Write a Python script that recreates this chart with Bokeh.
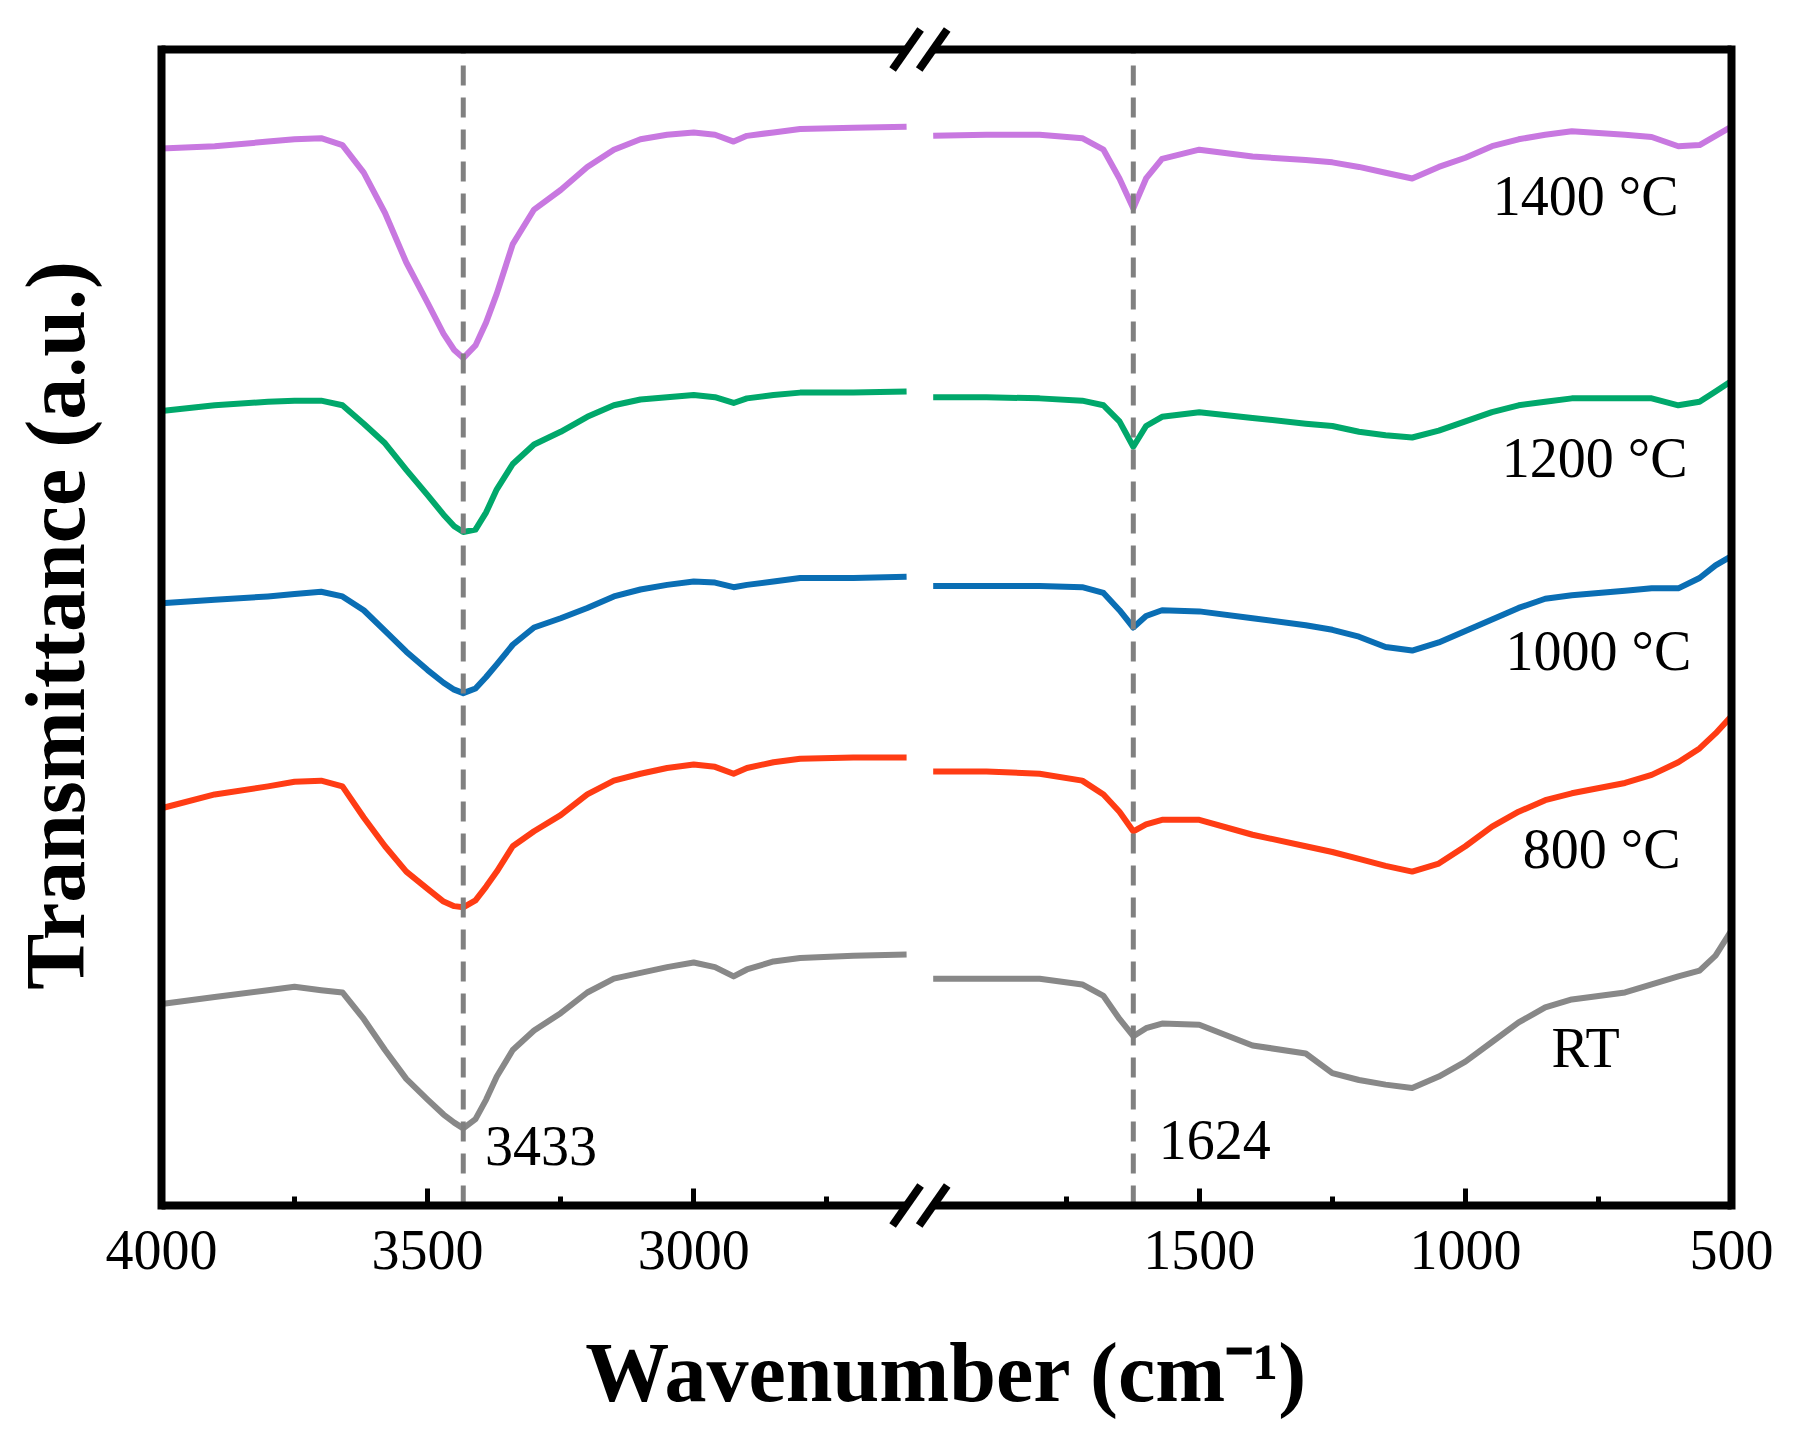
import numpy as np
from bokeh.plotting import figure
from bokeh.models import Range1d, FixedTicker, Arrow, BoxAnnotation
from bokeh.core.properties import value
from bokeh.embed import file_html
from bokeh.resources import INLINE

# wavenumbers (cm-1): left part 4000-2600, right part 2000-500 (axis is broken)
wn_left = [4000, 3900, 3800, 3750, 3700, 3660, 3620, 3580, 3540, 3500, 3470, 3450, 3433, 3410, 3390,
           3370, 3340, 3300, 3250, 3200, 3150, 3100, 3050, 3000, 2960, 2925, 2900, 2850, 2800, 2700, 2600]
wn_right = [2000, 1900, 1800, 1720, 1680, 1650, 1624, 1600, 1570, 1500, 1400, 1300, 1250, 1200,
            1150, 1100, 1050, 1000, 950, 900, 850, 800, 700, 650, 600, 560, 530, 500]

# transmittance (a.u., curves already stacked)
t1400_left = [918, 920, 924, 926, 927, 921, 897, 862, 819, 784, 757, 743, 736, 747, 767, 792, 835, 865,
              882, 902, 917, 926, 930, 932, 930, 924, 929, 932, 935, 936, 937]
t1400_right = [929, 930, 930, 927, 917, 892, 866, 892, 909, 917, 911, 908, 906, 902, 897, 892, 902, 910,
               920, 926, 930, 933, 930, 928, 920, 921, 929, 937]
t1200_left = [690, 695, 698, 699, 699, 695, 679, 662, 639, 617, 600, 590, 585, 587, 602, 622, 644, 661,
              672, 685, 695, 700, 702, 704, 702, 697, 701, 704, 706, 706, 707]
t1200_right = [702, 702, 701, 699, 695, 681, 659, 677, 685, 689, 684, 679, 677, 672, 669, 667, 673, 681,
               689, 695, 698, 701, 701, 701, 695, 698, 707, 716]
t1000_left = [523, 526, 529, 531, 533, 529, 517, 499, 481, 465, 454, 448, 445, 449, 459, 470, 487, 502,
              510, 519, 529, 535, 539, 542, 541, 537, 539, 542, 545, 545, 546]
t1000_right = [538, 538, 538, 537, 532, 517, 502, 512, 517, 516, 510, 504, 500, 494, 485, 482, 489, 499,
               509, 519, 527, 530, 534, 536, 536, 545, 556, 564]
t800_left = [345, 357, 364, 368, 369, 364, 337, 312, 290, 275, 264, 260, 259, 265, 277, 290, 312, 325,
             339, 357, 369, 375, 380, 383, 381, 375, 380, 385, 388, 389, 389]
t800_right = [377, 377, 375, 369, 357, 342, 325, 331, 335, 335, 322, 312, 307, 301, 295, 290, 297, 312,
              329, 342, 352, 358, 367, 374, 385, 397, 410, 425]
tRT_left = [175, 181, 187, 190, 187, 185, 162, 135, 110, 92, 79, 72, 67, 75, 92, 112, 135, 152, 167,
            185, 197, 202, 207, 211, 207, 199, 205, 212, 215, 217, 218]
tRT_right = [197, 197, 197, 192, 182, 162, 147, 154, 158, 157, 139, 132, 115, 109, 105, 102, 112, 125,
             142, 159, 172, 179, 185, 192, 199, 204, 217, 239]

series_names = ["1400 °C", "1200 °C", "1000 °C", "800 °C", "RT"]
series_colors = ["#C878E0", "#00A86B", "#0A6EB4", "#FF3C14", "#888888"]

peaks = [3433, 1624]
major_wn = [4000, 3500, 3000, 1500, 1000, 500]
minor_wn = [3750, 3250, 2750, 1750, 1250, 750]

BREAK_LO, BREAK_HI, GAP = 2600, 2000, 50


def to_axis(w):
    w = np.asarray(w, dtype=float)
    return np.where(w >= BREAK_LO, 4000 - w, (4000 - BREAK_LO) + GAP + BREAK_HI - w)


X_END = float(to_axis(500))
Y_END = 1004
FONT = "Liberation Serif"

# drawn box is 1570 x 1156 px; the bokeh frame is padded so that the box,
# its break marks and the ticks are drawn without clipping
BOX_W, BOX_H = 1570, 1156
PAD_X, PAD_T, PAD_B = 8, 28, 24
sx = X_END / BOX_W
sy = Y_END / BOX_H

p = figure(width=1790, height=1436,
           x_range=Range1d(-PAD_X * sx, X_END + PAD_X * sx),
           y_range=Range1d(-PAD_B * sy, Y_END + PAD_T * sy),
           min_border_left=153, min_border_right=1790 - 153 - BOX_W - 2 * PAD_X,
           min_border_top=49 - PAD_T, min_border_bottom=1436 - 49 - BOX_H - PAD_B,
           toolbar_location=None, tools="", output_backend="svg")
p.grid.visible = False
p.outline_line_color = None

xa = p.xaxis[0]
xa.ticker = FixedTicker(ticks=[int(v) for v in to_axis(major_wn)],
                        minor_ticks=[int(v) for v in to_axis(minor_wn)])
xa.major_label_overrides = {int(u): str(w) for u, w in zip(to_axis(major_wn), major_wn)}
xa.axis_line_color = None
# ticks start at the drawn box edge, inside the padded frame
xa.major_tick_out = -PAD_B
xa.major_tick_in = PAD_B + 17
xa.minor_tick_out = -PAD_B
xa.minor_tick_in = PAD_B + 9
xa.major_tick_line_width = 5
xa.minor_tick_line_width = 5
xa.major_label_text_font = FONT
xa.major_label_text_font_size = "56px"
xa.major_label_text_color = "black"
xa.major_label_standoff = 25
xa.axis_label = "Wavenumber (cm⁻¹)"
xa.axis_label_text_font = FONT
xa.axis_label_text_font_style = "bold"
xa.axis_label_text_font_size = "84px"
xa.axis_label_text_color = "black"
xa.axis_label_standoff = 54

ya = p.yaxis[0]
ya.ticker = FixedTicker(ticks=[])
ya.major_label_text_font_size = "0px"
ya.axis_line_color = None
ya.major_tick_line_color = None
ya.minor_tick_line_color = None
ya.axis_label = "Transmittance (a.u.)"
ya.axis_label_text_font = FONT
ya.axis_label_text_font_style = "bold"
ya.axis_label_text_font_size = "84px"
ya.axis_label_text_color = "black"
ya.axis_label_standoff = 60 - PAD_X

curves = [(t1400_left, t1400_right), (t1200_left, t1200_right), (t1000_left, t1000_right),
          (t800_left, t800_right), (tRT_left, tRT_right)]
for (yl, yr), color in zip(curves, series_colors):
    p.line(to_axis(wn_left), yl, line_color=color, line_width=6, line_join="round")
    p.line(to_axis(wn_right), yr, line_color=color, line_width=6, line_join="round")

pk_x = to_axis(peaks)
p.segment(x0=pk_x, y0=[0] * len(peaks), x1=pk_x, y1=[Y_END] * len(peaks),
          line_color="#808080", line_width=5, line_dash="20 12")

# series labels and peak labels
p.text(x=to_axis([774, 757, 750, 744, 774]), y=[877, 649, 482, 310, 137], text=series_names,
       text_font=value(FONT), text_font_size="56px", text_color="black",
       text_align="center", text_baseline="middle")
p.text(x=to_axis([3287, 1471]), y=[52, 57], text=[str(v) for v in peaks],
       text_font=value(FONT), text_font_size="56px", text_color="black",
       text_align="center", text_baseline="middle")

# keep the padding under the box clean
p.add_layout(BoxAnnotation(left=-1000, right=5000, bottom=-1000, top=0,
                           fill_color="white", fill_alpha=1, line_color=None))


def stroke(x0, y0, x1, y1, width=8, cap="square"):
    p.add_layout(Arrow(end=None, x_start=x0, y_start=y0, x_end=x1, y_end=y1,
                       line_color="black", line_width=width, line_cap=cap))


# box, with a gap and two slashes at the axis break
b0 = float(to_axis(BREAK_LO))
b1 = b0 + GAP
stroke(0, 0, 0, Y_END)
stroke(X_END, 0, X_END, Y_END)
for yy in (0, Y_END):
    stroke(0, yy, b0, yy, cap="butt")
    stroke(b1, yy, X_END, yy, cap="butt")
    for bx in (b0, b1):
        stroke(bx - 14 * sx, yy - 20 * sy, bx + 14 * sx, yy + 20 * sy, width=8, cap="butt")

open("out.html", "w").write(file_html(p, INLINE, title="FTIR"))
